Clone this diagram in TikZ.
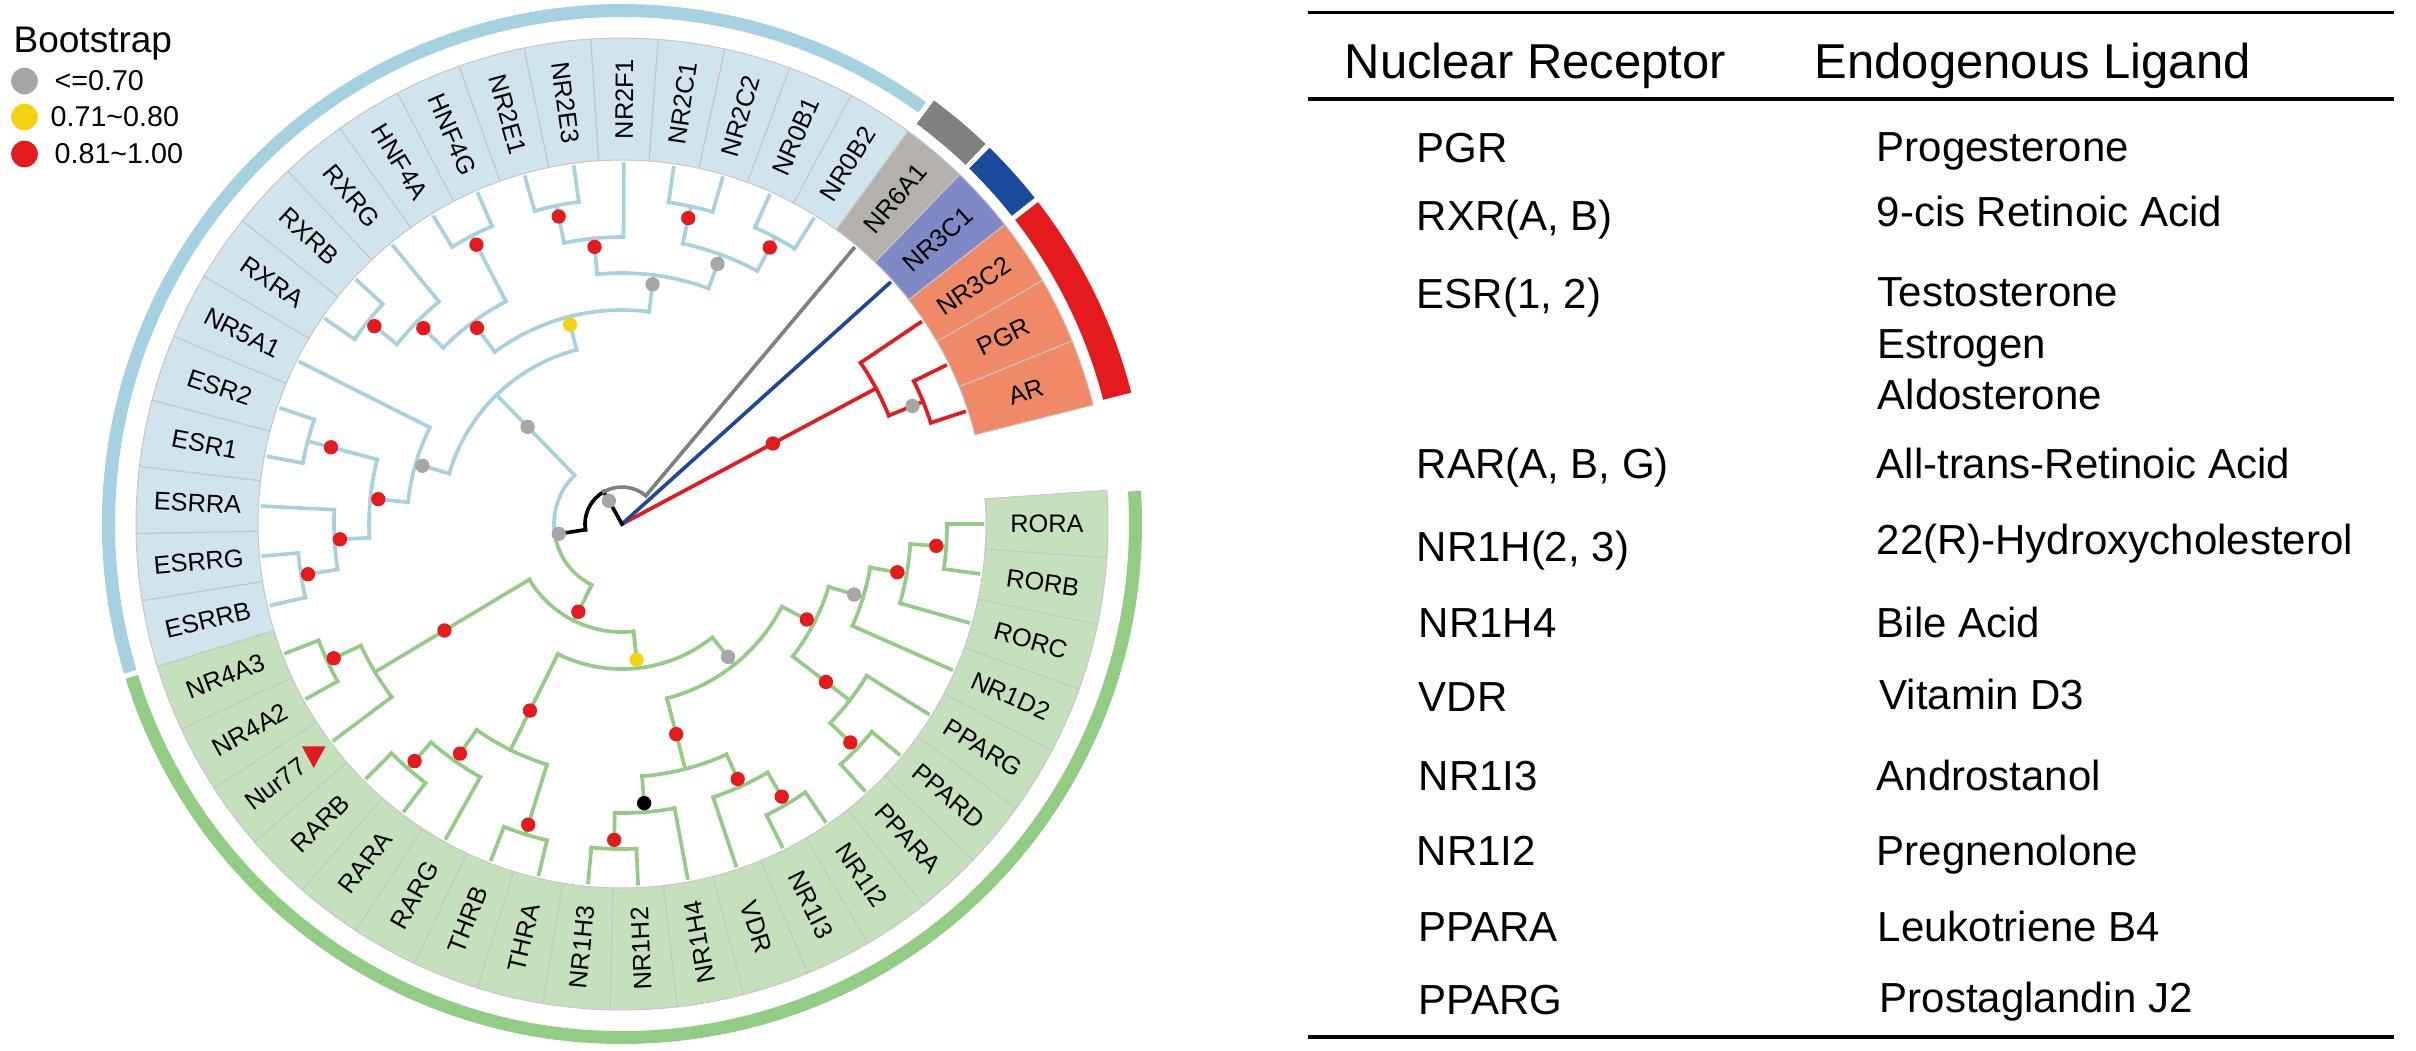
\documentclass[tikz,border=0pt]{standalone}
\usepackage{fontspec}
\setmainfont{Liberation Sans}
\usepackage{tikz}
\usepackage{xcolor}
\usetikzlibrary{calc}
\definecolor{brblue}{HTML}{A6D1E0}
\definecolor{brgreen}{HTML}{92CC85}
\definecolor{boxblue}{HTML}{CFE4EC}
\definecolor{boxgreen}{HTML}{C5E1BB}
\definecolor{boxgrey}{HTML}{B4B0AC}
\definecolor{boxnavy}{HTML}{8089C6}
\definecolor{boxsalmon}{HTML}{F08A66}
\definecolor{bandgrey}{HTML}{808080}
\definecolor{bandnavy}{HTML}{1B4A9C}
\definecolor{nrred}{HTML}{E41A1C}
\definecolor{dotgrey}{HTML}{A6A6A6}
\definecolor{dotyellow}{HTML}{F5D312}
\tikzstyle{br}=[line width=1.1pt, line cap=rect]
\tikzstyle{bluebr}=[br, brblue]
\tikzstyle{greenbr}=[br, brgreen]
\tikzstyle{redbr}=[br, nrred]
\tikzstyle{greybr}=[br, bandgrey]
\tikzstyle{navybr}=[br, bandnavy]
\tikzstyle{blackbr}=[br, black]
\tikzstyle{tipframe}=[draw=gray!45, line width=0.3pt]
\tikzstyle{tiplab}=[inner sep=0pt, font=\fontsize{7.6}{9}\selectfont]
\tikzstyle{bs}=[circle, inner sep=0pt, minimum size=4.3pt]
\tikzstyle{bsred}=[bs, fill=nrred]
\tikzstyle{bsgrey}=[bs, fill=dotgrey]
\tikzstyle{bsyellow}=[bs, fill=dotyellow]
\tikzstyle{bsblack}=[bs, fill=black]
\tikzstyle{legdot}=[circle, inner sep=0pt, minimum size=8pt]
\tikzstyle{legtext}=[anchor=west, inner sep=0pt, font=\fontsize{8.6}{10}\selectfont]
\tikzstyle{thead}=[anchor=base west, inner sep=0pt, font=\fontsize{14.7}{17}\selectfont]
\tikzstyle{tcell}=[anchor=base west, inner sep=0pt, font=\fontsize{12.6}{15}\selectfont]
\tikzstyle{rule}=[line width=1pt]
\newcommand{\tipbox}[5]{%
  \filldraw[tipframe, fill=#2] (#1-3.975:364) arc[start angle=#1-3.975, end angle=#1+3.975, radius=364]
    -- (#1+3.975:486) arc[start angle=#1+3.975, end angle=#1-3.975, radius=486] -- cycle;
  \node[tiplab, rotate=#4] (tip-#3) at (#1:#5) {#3};}
\newcommand{\band}[5]{%
  \fill[#1] (#2:#4) arc[start angle=#2, end angle=#3, radius=#4]
    -- (#3:#5) arc[start angle=#3, end angle=#2, radius=#5] -- cycle;}
\newcommand{\clade}[7]{%
  \coordinate (#1) at (#3:#5);
  \draw[#2] (#3:#4) -- (#1);
  \draw[#2] (#6:#5) arc[start angle=#6, end angle=#7, radius=#5];}
\newcommand{\twig}[4]{\draw[#1] (#2:#3) -- (#2:360) coordinate (end-#4);}
\newcommand{\bsdot}[4]{\node[#1] (bs-#2) at (#3:#4) {};}

\begin{document}
\begin{tikzpicture}[x=0.3pt, y=0.3pt]
\useasboundingbox (0,0) rectangle (2416,-1050);

\node[anchor=base west, inner sep=0pt, font=\fontsize{11.1}{13}\selectfont] (leg-title) at (13,-52) {Bootstrap};
\node[legdot, fill=dotgrey] (leg-d1) at (24.5,-81) {};
\node[legdot, fill=dotyellow] (leg-d2) at (24.5,-117) {};
\node[legdot, fill=nrred] (leg-d3) at (24.5,-154) {};
\node[legtext] (leg-t1) at (54,-81) {<=0.70};
\node[legtext] (leg-t2) at (50,-117) {0.71\textasciitilde0.80};
\node[legtext] (leg-t3) at (54,-154) {0.81\textasciitilde1.00};

\begin{scope}[shift={(622,-524)}]
\tipbox{360}{boxgreen}{RORA}{0}{425}
\tipbox{352.05}{boxgreen}{RORB}{352.05}{425}
\tipbox{344.1}{boxgreen}{RORC}{344.1}{425}
\tipbox{336.15}{boxgreen}{NR1D2}{336.15}{425}
\tipbox{328.2}{boxgreen}{PPARG}{328.2}{425}
\tipbox{320.25}{boxgreen}{PPARD}{320.25}{425}
\tipbox{312.3}{boxgreen}{PPARA}{312.3}{425}
\tipbox{304.35}{boxgreen}{NR1I2}{304.35}{425}
\tipbox{296.4}{boxgreen}{NR1I3}{296.4}{425}
\tipbox{288.45}{boxgreen}{VDR}{288.45}{425}
\tipbox{280.5}{boxgreen}{NR1H4}{100.5}{425}
\tipbox{272.55}{boxgreen}{NR1H2}{92.55}{425}
\tipbox{264.6}{boxgreen}{NR1H3}{84.6}{425}
\tipbox{256.65}{boxgreen}{THRA}{76.65}{425}
\tipbox{248.7}{boxgreen}{THRB}{68.7}{425}
\tipbox{240.75}{boxgreen}{RARG}{60.75}{425}
\tipbox{232.8}{boxgreen}{RARA}{52.8}{425}
\tipbox{224.85}{boxgreen}{RARB}{44.85}{425}
\tipbox{216.9}{boxgreen}{Nur77}{36.9}{433}
\tipbox{208.95}{boxgreen}{NR4A2}{28.95}{425}
\tipbox{201}{boxgreen}{NR4A3}{21}{425}
\tipbox{193.05}{boxblue}{ESRRB}{13.05}{425}
\tipbox{185.1}{boxblue}{ESRRG}{5.1}{425}
\tipbox{177.15}{boxblue}{ESRRA}{-2.85}{425}
\tipbox{169.2}{boxblue}{ESR1}{-10.8}{425}
\tipbox{161.25}{boxblue}{ESR2}{-18.75}{425}
\tipbox{153.3}{boxblue}{NR5A1}{-26.7}{425}
\tipbox{145.35}{boxblue}{RXRA}{-34.65}{425}
\tipbox{137.4}{boxblue}{RXRB}{-42.6}{425}
\tipbox{129.45}{boxblue}{RXRG}{-50.55}{425}
\tipbox{121.5}{boxblue}{HNF4A}{-58.5}{425}
\tipbox{113.55}{boxblue}{HNF4G}{-66.45}{425}
\tipbox{105.6}{boxblue}{NR2E1}{-74.4}{425}
\tipbox{97.65}{boxblue}{NR2E3}{-82.35}{425}
\tipbox{89.7}{boxblue}{NR2F1}{89.7}{425}
\tipbox{81.75}{boxblue}{NR2C1}{81.75}{425}
\tipbox{73.8}{boxblue}{NR2C2}{73.8}{425}
\tipbox{65.85}{boxblue}{NR0B1}{65.85}{425}
\tipbox{57.9}{boxblue}{NR0B2}{57.9}{425}
\tipbox{49.95}{boxgrey}{NR6A1}{49.95}{425}
\tipbox{42}{boxnavy}{NR3C1}{42}{425}
\tipbox{34.05}{boxsalmon}{NR3C2}{34.05}{425}
\tipbox{26.1}{boxsalmon}{PGR}{26.1}{425}
\tipbox{18.15}{boxsalmon}{AR}{18.15}{425}
\coordinate (nurmark) at (216.6:384);
\fill[nrred] (nurmark) ++(-11.7,6.5) -- ++(23.4,0) -- ++(-11.7,-21.6) -- cycle;

\band{brblue}{54.225}{196.725}{507}{520}
\band{bandgrey}{46.275}{53.625}{497}{526}
\band{bandnavy}{38.325}{45.675}{497}{526}
\band{nrred}{14.475}{37.725}{497}{526}
\band{brgreen}{197.325}{363.675}{507}{520}

\coordinate (root) at (0,0);
\clade{Rnode}{redbr}{28.09}{0}{288}{22.125}{34.05}
\clade{Rsub}{redbr}{22.125}{288}{325}{18.15}{26.1}
\twig{redbr}{34.05}{288}{NR3C2}
\twig{redbr}{26.1}{325}{PGR}
\twig{redbr}{18.15}{325}{AR}
\twig{navybr}{42}{0}{NR3C1}
\clade{N1}{blackbr}{119.4}{0}{37}{119.4}{188.86}
\draw[greybr] (49.95:37) arc[start angle=49.95, end angle=119.4, radius=37];
\twig{greybr}{49.95}{37}{NR6A1}
\coordinate (N2) at (188.86:68);
\draw[blackbr] (188.86:37) -- (N2);
\draw[bluebr] (134.17:68) arc[start angle=134.17, end angle=188.86, radius=68];
\draw[greenbr] (188.86:68) arc[start angle=188.86, end angle=243.54, radius=68];

\clade{B1}{bluebr}{134.17}{68}{180}{104.6}{163.73}
\clade{B2}{bluebr}{104.6}{180}{214}{82.74}{126.47}
\clade{B3}{bluebr}{163.73}{180}{215}{153.3}{174.17}
\clade{B4}{bluebr}{82.74}{214}{251}{69.825}{95.66}
\clade{B5}{bluebr}{126.47}{214}{251}{117.525}{135.41}
\clade{B7}{bluebr}{174.17}{215}{253}{165.225}{183.11}
\clade{B8}{bluebr}{165.225}{253}{325}{161.25}{169.2}
\clade{B9}{bluebr}{183.11}{253}{288}{177.15}{189.075}
\clade{B10}{bluebr}{189.075}{288}{325}{185.1}{193.05}
\clade{B11}{bluebr}{95.66}{251}{287}{89.7}{101.625}
\clade{B11a}{bluebr}{101.625}{287}{325}{97.65}{105.6}
\clade{B12}{bluebr}{69.825}{251}{287}{61.875}{77.775}
\clade{B12a}{bluebr}{77.775}{287}{325}{73.8}{81.75}
\clade{B12b}{bluebr}{61.875}{287}{325}{57.9}{65.85}
\clade{B14}{bluebr}{135.41}{251}{288}{129.45}{141.375}
\clade{B13}{bluebr}{141.375}{288}{325}{137.4}{145.35}
\clade{B16}{bluebr}{117.525}{251}{325}{113.55}{121.5}
\twig{bluebr}{193.05}{325}{ESRRB}
\twig{bluebr}{185.1}{325}{ESRRG}
\twig{bluebr}{177.15}{288}{ESRRA}
\twig{bluebr}{169.2}{325}{ESR1}
\twig{bluebr}{161.25}{325}{ESR2}
\twig{bluebr}{153.3}{215}{NR5A1}
\twig{bluebr}{145.35}{325}{RXRA}
\twig{bluebr}{137.4}{325}{RXRB}
\twig{bluebr}{129.45}{288}{RXRG}
\twig{bluebr}{121.5}{325}{HNF4A}
\twig{bluebr}{113.55}{325}{HNF4G}
\twig{bluebr}{105.6}{325}{NR2E1}
\twig{bluebr}{97.65}{325}{NR2E3}
\twig{bluebr}{89.7}{287}{NR2F1}
\twig{bluebr}{81.75}{325}{NR2C1}
\twig{bluebr}{73.8}{325}{NR2C2}
\twig{bluebr}{65.85}{325}{NR0B1}
\twig{bluebr}{57.9}{325}{NR0B2}

\clade{G1}{greenbr}{243.54}{68}{108}{210.94}{276.15}
\clade{G2}{greenbr}{210.94}{108}{288}{204.975}{216.9}
\clade{G2a}{greenbr}{204.975}{288}{325}{201}{208.95}
\clade{G3}{greenbr}{276.15}{108}{145}{243.73}{308.57}
\clade{G4}{greenbr}{243.73}{145}{252}{234.79}{252.675}
\clade{G6}{greenbr}{234.79}{252}{290}{228.825}{240.75}
\clade{G6a}{greenbr}{228.825}{290}{325}{224.85}{232.8}
\clade{G7}{greenbr}{252.675}{252}{325}{248.7}{256.65}
\clade{G5}{greenbr}{308.57}{145}{180}{284.47}{332.67}
\clade{G8}{greenbr}{284.47}{180}{253}{274.54}{294.41}
\clade{G10}{greenbr}{274.54}{253}{289}{268.575}{280.5}
\clade{G10a}{greenbr}{268.575}{289}{325}{264.6}{272.55}
\clade{G11}{greenbr}{294.41}{253}{288}{288.45}{300.375}
\clade{G11a}{greenbr}{300.375}{288}{325}{296.4}{304.35}
\clade{G9}{greenbr}{332.67}{180}{216}{322.24}{343.11}
\clade{G12}{greenbr}{322.24}{216}{288}{316.275}{328.2}
\clade{G12a}{greenbr}{316.275}{288}{325}{312.3}{320.25}
\clade{G13}{greenbr}{343.11}{216}{252}{336.15}{350.06}
\clade{G14}{greenbr}{350.06}{252}{289}{344.1}{356.025}
\clade{G14a}{greenbr}{356.025}{289}{325}{352.05}{360}
\twig{greenbr}{360}{325}{RORA}
\twig{greenbr}{352.05}{325}{RORB}
\twig{greenbr}{344.1}{289}{RORC}
\twig{greenbr}{336.15}{252}{NR1D2}
\twig{greenbr}{328.2}{288}{PPARG}
\twig{greenbr}{320.25}{325}{PPARD}
\twig{greenbr}{312.3}{325}{PPARA}
\twig{greenbr}{304.35}{325}{NR1I2}
\twig{greenbr}{296.4}{325}{NR1I3}
\twig{greenbr}{288.45}{288}{VDR}
\twig{greenbr}{280.5}{289}{NR1H4}
\twig{greenbr}{272.55}{325}{NR1H2}
\twig{greenbr}{264.6}{325}{NR1H3}
\twig{greenbr}{256.65}{325}{THRA}
\twig{greenbr}{248.7}{325}{THRB}
\twig{greenbr}{240.75}{290}{RARG}
\twig{greenbr}{232.8}{325}{RARA}
\twig{greenbr}{224.85}{325}{RARB}
\twig{greenbr}{216.9}{288}{Nur77}
\twig{greenbr}{208.95}{325}{NR4A2}
\twig{greenbr}{201}{325}{NR4A3}

\bsdot{bsgrey}{N1}{119.4}{26.6}
\bsdot{bsgrey}{N2}{188.86}{64}
\bsdot{bsred}{Rnode}{28.09}{171}
\bsdot{bsgrey}{Rsub}{22.125}{313.6}
\bsdot{bsgrey}{B1}{134.17}{135.5}
\bsdot{bsyellow}{B2}{104.6}{206}
\bsdot{bsgrey}{B3}{163.73}{208}
\bsdot{bsgrey}{B4}{82.74}{241.7}
\bsdot{bsred}{B5}{126.47}{244}
\bsdot{bsred}{B7}{174.17}{245}
\bsdot{bsred}{B8}{165.225}{301}
\bsdot{bsred}{B9}{183.11}{282.5}
\bsdot{bsred}{B10}{189.075}{318}
\bsdot{bsred}{B11}{95.66}{278.5}
\bsdot{bsred}{B11a}{101.625}{314}
\bsdot{bsgrey}{B12}{69.825}{277}
\bsdot{bsred}{B12a}{77.775}{313}
\bsdot{bsred}{B12b}{61.875}{313.6}
\bsdot{bsred}{B13}{141.375}{317}
\bsdot{bsred}{B14}{135.41}{279}
\bsdot{bsred}{B16}{117.525}{315}
\bsdot{bsred}{G1}{243.54}{98}
\bsdot{bsred}{G2}{210.94}{207}
\bsdot{bsred}{G2a}{204.975}{318}
\bsdot{bsyellow}{G3}{276.15}{136.5}
\bsdot{bsred}{G4}{243.73}{208}
\bsdot{bsred}{G6}{234.79}{281}
\bsdot{bsred}{G6a}{228.825}{315}
\bsdot{bsred}{G7}{252.675}{315}
\bsdot{bsgrey}{G5}{308.57}{170}
\bsdot{bsred}{G8}{284.47}{217}
\bsdot{bsblack}{G10}{274.54}{280}
\bsdot{bsred}{G10a}{268.575}{316}
\bsdot{bsred}{G11}{294.41}{280}
\bsdot{bsred}{G11a}{300.375}{316}
\bsdot{bsred}{G9}{332.67}{208}
\bsdot{bsred}{G12}{322.24}{258}
\bsdot{bsred}{G12a}{316.275}{316}
\bsdot{bsgrey}{G13}{343.11}{242.6}
\bsdot{bsred}{G14}{350.06}{279.5}
\bsdot{bsred}{G14a}{356.025}{315}
\end{scope}

\draw[rule] (1308,-12.5) -- (2394,-12.5);
\draw[rule] (1308,-99) -- (2394,-99);
\draw[rule] (1308,-1037) -- (2394,-1037);
\node[thead] (h-nr) at (1344,-78) {Nuclear Receptor};
\node[thead] (h-lig) at (1814,-78) {Endogenous Ligand};
\node[tcell] (r1a) at (1416,-162) {PGR};
\node[tcell] (r1b) at (1876,-161) {Progesterone};
\node[tcell] (r2a) at (1416,-230) {RXR(A, B)};
\node[tcell] (r2b) at (1876,-226) {9-cis Retinoic Acid};
\node[tcell] (r3a) at (1416,-308) {ESR(1, 2)};
\node[tcell] (r3b) at (1877,-306) {Testosterone};
\node[tcell] (r3c) at (1877,-358) {Estrogen};
\node[tcell] (r3d) at (1877,-409) {Aldosterone};
\node[tcell] (r4a) at (1416,-478) {RAR(A, B, G)};
\node[tcell] (r4b) at (1876,-478) {All-trans-Retinoic Acid};
\node[tcell] (r5a) at (1416,-561) {NR1H(2, 3)};
\node[tcell] (r5b) at (1876,-554) {22(R)-Hydroxycholesterol};
\node[tcell] (r6a) at (1418,-637) {NR1H4};
\node[tcell] (r6b) at (1876,-637) {Bile Acid};
\node[tcell] (r7a) at (1418,-711) {VDR};
\node[tcell] (r7b) at (1879,-709) {Vitamin D3};
\node[tcell] (r8a) at (1418,-790) {NR1I3};
\node[tcell] (r8b) at (1876,-790) {Androstanol};
\node[tcell] (r9a) at (1416,-865) {NR1I2};
\node[tcell] (r9b) at (1876,-865) {Pregnenolone};
\node[tcell] (r10a) at (1418,-941) {PPARA};
\node[tcell] (r10b) at (1877,-941) {Leukotriene B4};
\node[tcell] (r11a) at (1418,-1014) {PPARG};
\node[tcell] (r11b) at (1879,-1012) {Prostaglandin J2};
\end{tikzpicture}
\end{document}
